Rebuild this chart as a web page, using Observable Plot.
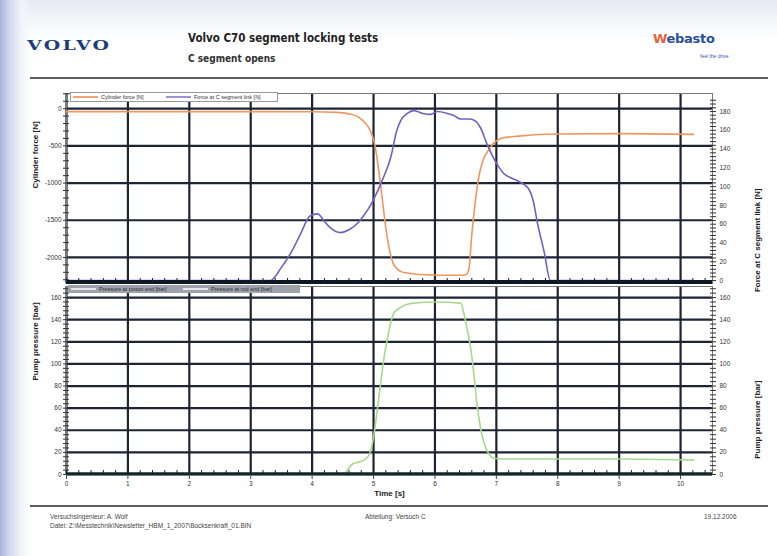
<!DOCTYPE html>
<html>
<head>
<meta charset="utf-8">
<script src="https://cdn.jsdelivr.net/npm/d3@7"></script>
<script src="https://cdn.jsdelivr.net/npm/@observablehq/plot@0.6"></script>
<style>
  html, body { margin: 0; padding: 0; }
  body {
    width: 777px; height: 556px; position: relative; overflow: hidden;
    font-family: "Liberation Sans", Arial, sans-serif;
    background:
      linear-gradient(to right, #a9b2dc 0px, #d4d9ef 10px, #f3f4fa 22px, rgba(255,255,255,0) 30px),
      linear-gradient(to bottom, #e6e9f3 0px, #f7f8fb 25px, #ffffff 40px);
  }
  .abs { position: absolute; white-space: nowrap; }
  #title { left: 188px; top: 31px; font-size: 11.5px; font-weight: bold; color: #222; font-family: "Liberation Sans Narrow", "DejaVu Sans Condensed", "Liberation Sans", sans-serif; }
  #subtitle { left: 188px; top: 53px; font-size: 10px; font-weight: bold; color: #333; font-family: "Liberation Sans Narrow", "DejaVu Sans Condensed", "Liberation Sans", sans-serif; }
  #volvo { left: 27px; top: 36px; font-family: "DejaVu Serif", serif; font-weight: bold; font-size: 16px; letter-spacing: 2px; color: #1f3c7c; transform: scale(1.18, 0.85); transform-origin: left center; }
  #webasto { left: 653px; top: 31px; font-family: "DejaVu Sans", sans-serif; font-weight: bold; font-size: 13px; color: #2a4fa0; letter-spacing: -0.3px; }
  #webasto span { color: #e8603c; }
  #drive { left: 700px; top: 53px; font-size: 5px; color: #3a5aa8; }
  .rule { position: absolute; left: 30px; width: 738px; height: 2px; background: #5b5d62; }
  .foot { font-size: 6.5px; color: #444; }
  .legend { position: absolute; height: 8px; font-size: 5.5px; line-height: 8px; color: #333; }
  .sw { position: absolute; top: 3px; height: 1.5px; width: 25px; }
  .lt { position: absolute; top: 0; }
  svg { position: absolute; left: 0; }
</style>
</head>
<body>
<div id="volvo" class="abs">VOLVO</div>
<div id="title" class="abs">Volvo C70 segment locking tests</div>
<div id="subtitle" class="abs">C segment opens</div>
<div id="webasto" class="abs"><span>W</span>ebasto</div>
<div id="drive" class="abs">feel the drive</div>
<div class="rule" style="top:77px"></div>
<div id="charts"></div>
<div class="rule" style="top:505px"></div>
<div class="abs foot" style="left:50px; top:513px">Versuchsingenieur: A. Wolf</div>
<div class="abs foot" style="left:50px; top:522px">Datei: Z:\Messtechnik\Newsletter_HBM_1_2007\Bocksenkraft_01.BIN</div>
<div class="abs foot" style="left:365px; top:513px">Abteilung: Versuch C</div>
<div class="abs foot" style="left:704px; top:513px">19.12.2006</div>

<div class="legend" style="left:70px; top:92px; width:206px; border:1px solid #9a9a9a; background:#fff;">
  <div class="sw" style="left:2px; background:#f2a673"></div>
  <div class="lt" style="left:30px">Cylinder force [N]</div>
  <div class="sw" style="left:95px; background:#9b93d6"></div>
  <div class="lt" style="left:123px">Force at C segment link [N]</div>
</div>
<div class="legend" style="left:68px; top:285px; width:232px; background:#9ea2aa; color:#2a2e36;">
  <div class="sw" style="left:3px; background:#e6e6e6"></div>
  <div class="lt" style="left:31px">Pressure at piston end [bar]</div>
  <div class="sw" style="left:115px; background:#e6e6e6"></div>
  <div class="lt" style="left:143px">Pressure at rod end [bar]</div>
</div>

<script>
// ---- data ----
const timeTicks = [0, 1, 2, 3, 4, 5, 6, 7, 8, 9, 10];
const cylForceTicks = [0, -500, -1000, -1500, -2000];
const linkForceTicks = [0, 20, 40, 60, 80, 100, 120, 140, 160, 180];
const pressureTicks = [0, 20, 40, 60, 80, 100, 120, 140, 160];

const cylT = [0, 1, 2, 3, 4, 4.4, 4.6, 4.75, 4.85, 4.95, 5.02, 5.08, 5.14, 5.2, 5.26, 5.32, 5.38, 5.45, 5.55, 5.7, 6.0, 6.3, 6.5, 6.55, 6.6, 6.65, 6.7, 6.78, 6.87, 6.95, 7.1, 7.4, 8, 9, 10.21];
const cylF = [-40, -40, -40, -40, -42, -50, -70, -110, -180, -300, -480, -800, -1200, -1600, -1900, -2080, -2150, -2190, -2210, -2225, -2235, -2240, -2235, -2170, -1700, -1300, -980, -700, -560, -470, -395, -365, -340, -335, -345];

const linkT = [0, 3.32, 3.5, 3.65, 3.8, 3.97, 4.09, 4.2, 4.3, 4.46, 4.6, 4.74, 4.85, 4.95, 5.05, 5.15, 5.28, 5.38, 5.44, 5.55, 5.65, 5.8, 5.93, 6.04, 6.2, 6.3, 6.42, 6.55, 6.63, 6.74, 6.85, 6.95, 7.05, 7.12, 7.25, 7.35, 7.51, 7.6, 7.67, 7.78, 7.88, 10.21];
const linkF = [0, 0, 14, 29, 48, 69, 71, 63, 56, 51, 54, 61, 70, 80, 93, 108, 131, 160, 170, 178, 181, 178, 177, 180, 178, 176, 172, 172, 171, 163, 145, 131, 120, 114, 109, 106, 99, 85, 61, 30, 0, 0];

const pumpT = [0, 4.51, 4.6, 4.67, 4.75, 4.84, 4.92, 4.97, 5.03, 5.11, 5.17, 5.22, 5.28, 5.33, 5.44, 5.55, 5.65, 6.0, 6.42, 6.47, 6.53, 6.58, 6.64, 6.69, 6.75, 6.82, 6.9, 6.95, 7.1, 8, 9, 10.21];
const pumpP = [0, 0, 6, 10, 11, 13, 17, 25, 45, 80, 105, 121, 137, 146, 151, 154, 155, 156, 155, 146, 130, 115, 88, 61, 40, 25, 17, 15, 14, 14, 14, 13];

// ---- styles / scales ----
const grid = "#1d2433";
const xDomain = [0, 10.52];
// right axis (link force) mapped onto left axis (cylinder force)
const toLeft = v => -2310 + 12.62 * v;
const fromLeft = d => (d + 2310) / 12.62;

const cyl = cylT.map((t, i) => ({t, v: cylF[i]}));
const link = linkT.map((t, i) => ({t, v: toLeft(linkF[i])}));
const pump = pumpT.map((t, i) => ({t, v: pumpP[i]}));

const baseStyle = {fontFamily: "Liberation Sans, Arial, sans-serif", fontSize: "6.5px", color: "#333", background: "transparent", overflow: "visible"};
const blank = () => "";
const plain = d => String(Math.round(d));

const topChart = Plot.plot({
  width: 777, height: 197,
  marginTop: 5, marginBottom: 2, marginLeft: 66, marginRight: 65,
  style: baseStyle,
  x: {domain: xDomain},
  y: {domain: [-2350, 204]},
  marks: [
    Plot.gridX(timeTicks, {stroke: grid, strokeOpacity: 1, strokeWidth: 2.2}),
    Plot.gridY(cylForceTicks, {stroke: grid, strokeOpacity: 1, strokeWidth: 2.2}),
    Plot.frame({stroke: "#777"}),
    Plot.axisY(cylForceTicks, {anchor: "left", tickSize: 0, tickPadding: 5, label: null, tickFormat: plain}),
    Plot.axisY(d3.range(-2300, 201, 100), {anchor: "left", tickSize: 6, dx: 3, tickFormat: blank, label: null, stroke: "#333"}),
    Plot.axisY(linkForceTicks.map(toLeft), {anchor: "right", tickSize: 0, tickPadding: 7, label: null, tickFormat: d => plain(fromLeft(d))}),
    Plot.axisY(d3.range(0, 196, 4).map(toLeft), {anchor: "right", tickSize: 6, dx: -3, tickFormat: blank, label: null, stroke: "#333"}),
    Plot.line(cyl, {x: "t", y: "v", stroke: "#f0975e", strokeWidth: 1.6, curve: "monotone-x"}),
    Plot.line(link, {x: "t", y: "v", stroke: "#7261c0", strokeWidth: 1.6, curve: "monotone-x"}),
    Plot.ruleY([-2330], {stroke: "#0e1828", strokeWidth: 4}),
    Plot.axisX(d3.range(0, 10.6, 0.2), {anchor: "bottom", tickSize: 4, dy: -5, tickFormat: blank, label: null, stroke: "#222"}),
    Plot.text(["Cylinder force [N]"], {frameAnchor: "left", dx: -31, rotate: -90, fontWeight: "bold", fontSize: 8, fill: "#222"}),
    Plot.text(["Force at C segment link [N]"], {frameAnchor: "right", dx: 45, rotate: -90, fontWeight: "bold", fontSize: 8, fill: "#222"})
  ]
});
topChart.style.top = "88px";

const bottomChart = Plot.plot({
  width: 777, height: 223,
  marginTop: 5, marginBottom: 30, marginLeft: 66, marginRight: 65,
  style: baseStyle,
  x: {domain: xDomain},
  y: {domain: [0, 170]},
  marks: [
    Plot.gridX(timeTicks, {stroke: grid, strokeOpacity: 1, strokeWidth: 2.2}),
    Plot.gridY(pressureTicks, {stroke: grid, strokeOpacity: 1, strokeWidth: 2.2}),
    Plot.frame({stroke: "#777"}),
    Plot.axisY(pressureTicks, {anchor: "left", tickSize: 0, tickPadding: 5, label: null, tickFormat: plain}),
    Plot.axisY(d3.range(0, 169, 4), {anchor: "left", tickSize: 6, dx: 3, tickFormat: blank, label: null, stroke: "#333"}),
    Plot.axisY(pressureTicks, {anchor: "right", tickSize: 0, tickPadding: 7, label: null, tickFormat: plain}),
    Plot.axisY(d3.range(0, 169, 4), {anchor: "right", tickSize: 6, dx: -3, tickFormat: blank, label: null, stroke: "#333"}),
    Plot.axisX(timeTicks, {anchor: "bottom", tickSize: 5, tickPadding: 2, label: null, stroke: "#444", tickFormat: plain}),
    Plot.line(pump, {x: "t", y: "v", stroke: "#a9d98c", strokeWidth: 1.6, curve: "monotone-x"}),
    Plot.ruleY([0.6], {stroke: "#10282c", strokeWidth: 3}),
    Plot.axisX(d3.range(0, 10.6, 0.2), {anchor: "bottom", tickSize: 4, dy: -4, tickFormat: blank, label: null, stroke: "#222"}),
    Plot.text(["Pump pressure [bar]"], {frameAnchor: "left", dx: -31, rotate: -90, fontWeight: "bold", fontSize: 8, fill: "#222"}),
    Plot.text(["Pump pressure [bar]"], {frameAnchor: "right", dx: 45, rotate: -90, fontWeight: "bold", fontSize: 8, fill: "#222"}),
    Plot.text(["Time [s]"], {frameAnchor: "bottom", dy: 21, fontWeight: "bold", fontSize: 8, fill: "#222"})
  ]
});
bottomChart.style.top = "281px";

const holder = document.getElementById("charts");
holder.appendChild(topChart);
holder.appendChild(bottomChart);
</script>
</body>
</html>
